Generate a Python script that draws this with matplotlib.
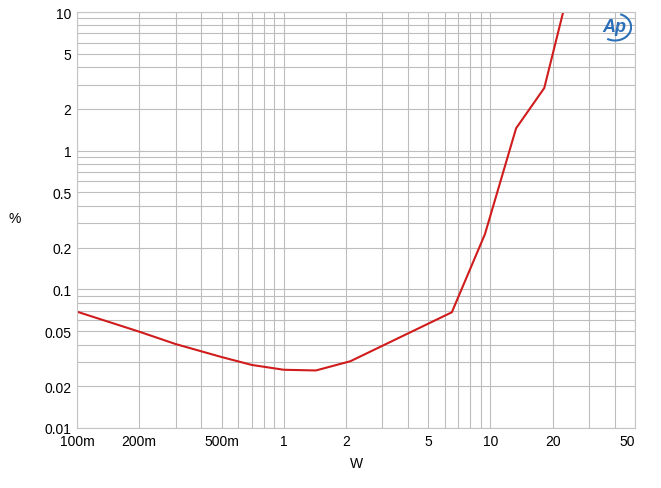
import matplotlib
matplotlib.use("Agg")
import matplotlib.pyplot as plt
from matplotlib.patches import Arc

# THD+N vs output power
watts = [0.1, 0.2, 0.3, 0.5, 0.7, 1.0, 1.43, 2.1, 6.5, 9.4, 13.3, 18.2, 23.0]
thd_pct = [0.069, 0.0495, 0.0403, 0.0325, 0.0285, 0.0263, 0.026, 0.0303,
           0.0683, 0.25, 1.45, 2.83, 11.5]

xticks = [0.1, 0.2, 0.5, 1, 2, 5, 10, 20, 50]
xlabels = ["100m", "200m", "500m", "1", "2", "5", "10", "20", "50"]
yticks = [0.01, 0.02, 0.05, 0.1, 0.2, 0.5, 1, 2, 5, 10]
ylabels = ["0.01", "0.02", "0.05", "0.1", "0.2", "0.5", "1", "2", "5", "10"]

plt.rcParams['font.family'] = ['Liberation Sans', 'DejaVu Sans']

fig = plt.figure(figsize=(6.61, 4.89), dpi=100)
ax = fig.add_axes([77/661, 60/489, 558/661, 416/489])

ax.plot(watts, thd_pct, color="#d01c1c", lw=1.5)
ax.set_xscale("log")
ax.set_yscale("log")
ax.set_xlim(0.1, 50)
ax.set_ylim(0.01, 10)

ax.set_xticks(xticks)
ax.set_xticklabels(xlabels)
ax.set_yticks(yticks)
ax.set_yticklabels(ylabels)
ax.xaxis.get_ticklabels()[-1].set_horizontalalignment("right")
ax.tick_params(which="both", length=0, labelsize=10, pad=4)
ax.grid(True, which="both", color="#bdbdbd", lw=0.8)
for s in ax.spines.values():
    s.set_color("#c4c4c4")
    s.set_linewidth(0.8)

ax.set_xlabel("W", fontsize=10, labelpad=6)
fig.text(15/661, 1 - 219/489, "%", fontsize=10, ha="center", va="center")

# Ap logo
fig.text(614/661, 1 - 27/489, "Ap", fontsize=13, color="#2a6fb8",
         style="italic", fontweight="bold", ha="center", va="center")
logo_ax = fig.add_axes([598/661, 1 - 43/489, 34/661, 30/489])
logo_ax.axis("off")
logo_ax.set_xlim(0, 1)
logo_ax.set_ylim(0, 1)
logo_ax.add_patch(Arc((0.5, 0.5), 0.95, 0.9, theta1=-120, theta2=70,
                      color="#2a6fb8", lw=1.5))

fig.savefig("out.png", dpi=100)
